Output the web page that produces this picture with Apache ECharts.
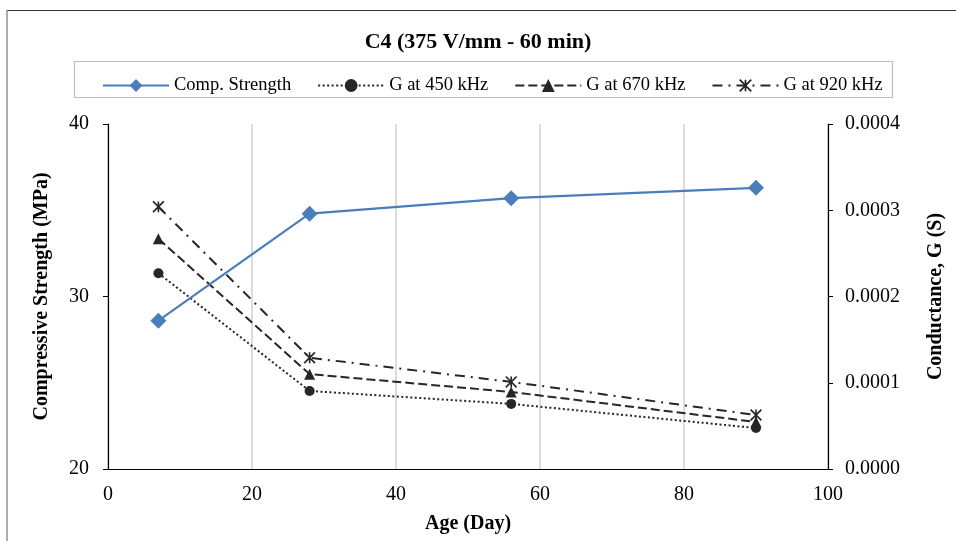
<!DOCTYPE html>
<html>
<head>
<meta charset="utf-8">
<script src="https://cdn.jsdelivr.net/npm/echarts@6/dist/echarts.min.js"></script>
<style>
html,body{margin:0;padding:0;background:#fff;}
#chart{width:956px;height:541px;}
</style>
</head>
<body>
<div id="chart"></div>
<script>
// ---- data ----
const ages = [7, 28, 56, 90];
const compStrength = [28.6, 34.8, 35.7, 36.3];
const g450 = [0.000227, 0.0000905, 0.0000755, 0.0000475];
const g670 = [0.000267, 0.000110, 0.0000893, 0.0000545];
const g920 = [0.000304, 0.000129, 0.000101, 0.0000626];
const seriesNames = ['Comp. Strength', 'G at 450 kHz', 'G at 670 kHz', 'G at 920 kHz'];
const titleText = 'C4 (375 V/mm - 60 min)';
const xName = 'Age (Day)';
const yLeftName = 'Compressive Strength (MPa)';
const yRightName = 'Conductance, G (S)';

const pairs = (xs, ys) => xs.map((x, i) => [x, ys[i]]);
const FONT = 'Liberation Serif';
const asterisk = 'path://M8.5,0L11.5,0L11.5,20L8.5,20Z M1.1,-1.1L21.1,18.9L18.9,21.1L-1.1,1.1Z M18.9,-1.1L21.1,1.1L1.1,21.1L-1.1,18.9Z';

const chart = echarts.init(document.getElementById('chart'));
chart.setOption({
  animation: false,
  backgroundColor: '#fff',
  title: {
    text: titleText, left: 'center', top: 26,
    textStyle: {fontFamily: FONT, fontSize: 22, fontWeight: 'bold', color: '#000'}
  },
  graphic: [
    {type: 'line', shape: {x1: 7, y1: 10.5, x2: 956, y2: 10.5}, style: {stroke: '#333', lineWidth: 1.2}, silent: true},
    {type: 'line', shape: {x1: 7, y1: 10, x2: 7, y2: 541}, style: {stroke: '#777', lineWidth: 1.2}, silent: true},
    {type: 'rect', shape: {x: 74.5, y: 61.5, width: 818, height: 36}, style: {fill: 'none', stroke: '#bdbdbd', lineWidth: 1.2}, silent: true, z: -1}
  ],
  legend: {
    left: 97, top: 71, itemWidth: 66, itemHeight: 16, itemGap: 26,
    data: seriesNames,
    textStyle: {fontFamily: FONT, fontSize: 18.5, color: '#000'}
  },
  grid: {left: 108, right: 128, top: 124, bottom: 72, containLabel: false, outerBoundsMode: 'none'},
  xAxis: {
    type: 'value', min: 0, max: 100, interval: 20,
    name: xName, nameLocation: 'middle', nameGap: 45,
    nameTextStyle: {fontFamily: FONT, fontSize: 20, fontWeight: 'bold', color: '#000'},
    axisLine: {show: true, onZero: false, lineStyle: {color: '#000', width: 1.2}},
    axisTick: {show: false},
    axisLabel: {fontFamily: FONT, fontSize: 20, color: '#000', margin: 16},
    splitLine: {show: true, lineStyle: {color: '#d0d0d0', width: 1.5}}
  },
  yAxis: [
    {
      type: 'value', min: 20, max: 40, interval: 10, position: 'left',
      name: yLeftName, nameLocation: 'middle', nameGap: 56, nameRotate: 90,
      nameTextStyle: {fontFamily: FONT, fontSize: 20, fontWeight: 'bold', color: '#000'},
      axisLine: {show: true, lineStyle: {color: '#000', width: 1.2}},
      axisTick: {show: true, length: 5, inside: false, lineStyle: {color: '#000'}},
      axisLabel: {fontFamily: FONT, fontSize: 20, color: '#000', margin: 19},
      splitLine: {show: false}
    },
    {
      type: 'value', min: 0, max: 0.0004, interval: 0.0001, position: 'right',
      name: yRightName, nameLocation: 'middle', nameGap: 98, nameRotate: 90,
      nameTextStyle: {fontFamily: FONT, fontSize: 20, fontWeight: 'bold', color: '#000'},
      axisLine: {show: true, lineStyle: {color: '#000', width: 1.2}},
      axisTick: {show: true, length: 5, inside: false, lineStyle: {color: '#000'}},
      axisLabel: {fontFamily: FONT, fontSize: 20, color: '#000', margin: 17,
        formatter: v => v.toFixed(4)},
      splitLine: {show: false}
    }
  ],
  series: [
    {
      name: seriesNames[0], type: 'line', yAxisIndex: 0, data: pairs(ages, compStrength),
      symbol: 'diamond', symbolSize: 16,
      itemStyle: {color: '#4A7EBB'}, lineStyle: {color: '#4A7EBB', width: 2.2}, z: 5
    },
    {
      name: seriesNames[1], type: 'line', yAxisIndex: 1, data: pairs(ages, g450),
      symbol: 'circle', symbolSize: 10,
      itemStyle: {color: '#262626'}, lineStyle: {color: '#262626', width: 2, type: [2, 2.5]}
    },
    {
      name: seriesNames[2], type: 'line', yAxisIndex: 1, data: pairs(ages, g670),
      symbol: 'triangle', symbolSize: 11,
      itemStyle: {color: '#262626'}, lineStyle: {color: '#262626', width: 2, type: [9, 4]}
    },
    {
      name: seriesNames[3], type: 'line', yAxisIndex: 1, data: pairs(ages, g920),
      symbol: asterisk, symbolSize: 12,
      itemStyle: {color: '#262626'}, lineStyle: {color: '#262626', width: 2, type: [10, 6, 2, 6]}
    }
  ]
});
</script>
</body>
</html>
